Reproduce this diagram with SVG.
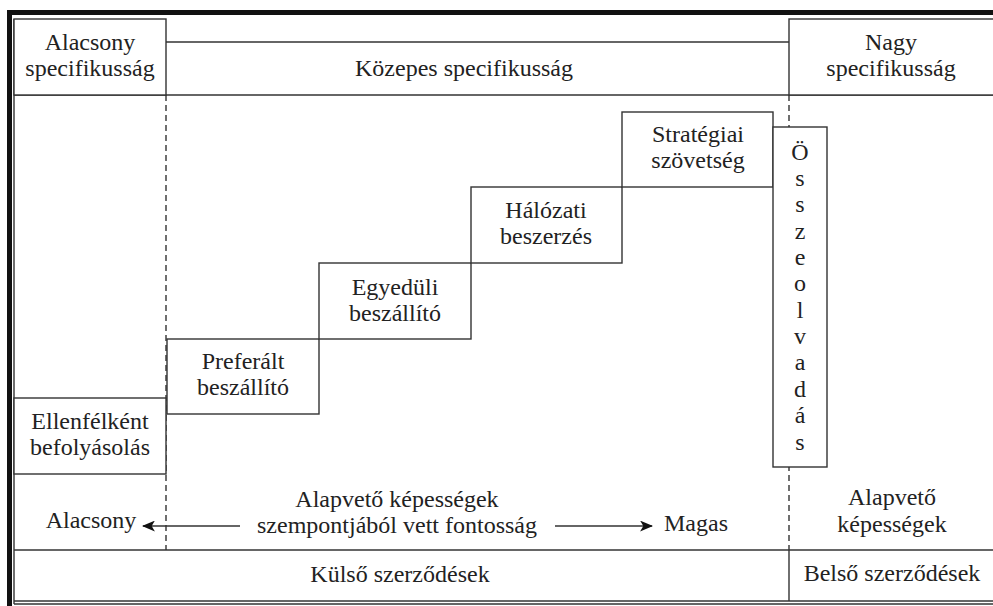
<svg xmlns="http://www.w3.org/2000/svg" width="993" height="606" viewBox="0 0 993 606">
<defs>
<style>
.ln{stroke:#333;stroke-width:1.4;fill:none}
.bx{stroke:#333;stroke-width:1.4;fill:#fff}
.ds{stroke:#333;stroke-width:1.4;stroke-dasharray:6,4;fill:none}
text{font-size:24px;fill:#222;text-anchor:middle}
</style>
<marker id="ah" viewBox="0 0 12 10" refX="11" refY="5" markerWidth="13" markerHeight="11" markerUnits="userSpaceOnUse" orient="auto">
<path d="M0,0 L12,5 L0,10 L3,5 Z" fill="#111"/>
</marker>
</defs>
<rect x="0" y="0" width="993" height="606" fill="#fff"/>
<rect x="7" y="10" width="986" height="5" fill="#111"/>
<rect x="7" y="10" width="5" height="596" fill="#111"/>
<g id="frame">
<line class="ln" x1="14" y1="19" x2="14" y2="604"/>
<line class="ln" x1="14" y1="95" x2="993" y2="95"/>
<line class="ln" x1="166" y1="42" x2="789" y2="42"/>
<line class="ln" x1="14" y1="550" x2="993" y2="550"/>
<line class="ln" x1="14" y1="601" x2="993" y2="601"/>
<line class="ln" x1="14" y1="604" x2="993" y2="604" stroke="#777"/>
<line class="ln" x1="789" y1="550" x2="789" y2="601"/>
</g>
<g id="dividers">
<line class="ds" x1="166" y1="95" x2="166" y2="550"/>
<line class="ds" x1="789" y1="95" x2="789" y2="550"/>
</g>
<g font-family="'Liberation Serif', 'DejaVu Serif', 'Times New Roman', serif">
<g id="hdr-low">
<rect class="bx" x="14" y="19" width="152" height="76"/>
<text x="90" y="50">Alacsony</text>
<text x="90" y="76">specifikusság</text>
</g>
<g id="hdr-mid">
<text x="464" y="76">Közepes specifikusság</text>
</g>
<g id="hdr-high">
<rect class="bx" x="789" y="19" width="210" height="76"/>
<text x="891" y="50">Nagy</text>
<text x="891" y="76">specifikusság</text>
</g>
<g id="ellenfel">
<rect class="bx" x="14" y="398" width="152" height="76"/>
<text x="90" y="429">Ellenfélként</text>
<text x="90" y="455">befolyásolás</text>
</g>
<g id="preferalt">
<rect class="bx" x="167" y="339" width="152" height="75"/>
<text x="243" y="369">Preferált</text>
<text x="243" y="395">beszállító</text>
</g>
<g id="egyeduli">
<rect class="bx" x="319" y="263" width="152" height="76"/>
<text x="395" y="295">Egyedüli</text>
<text x="395" y="321">beszállító</text>
</g>
<g id="halozati">
<rect class="bx" x="471" y="187" width="151" height="76"/>
<text x="546" y="218">Hálózati</text>
<text x="546" y="244">beszerzés</text>
</g>
<g id="strategiai">
<rect class="bx" x="622" y="112" width="151" height="75"/>
<text x="698" y="142">Stratégiai</text>
<text x="698" y="168">szövetség</text>
</g>
<g id="osszeolvadas">
<rect class="bx" x="773" y="127" width="54" height="340"/>
<text x="800" y="160">Ö</text>
<text x="800" y="186">s</text>
<text x="800" y="212">s</text>
<text x="800" y="239">z</text>
<text x="800" y="265">e</text>
<text x="800" y="291">o</text>
<text x="800" y="318">l</text>
<text x="800" y="344">v</text>
<text x="800" y="370">a</text>
<text x="800" y="397">d</text>
<text x="800" y="423">á</text>
<text x="800" y="450">s</text>
</g>
<g id="connectors">
<line class="ln" x1="240" y1="526" x2="143" y2="526" stroke="#111" marker-end="url(#ah)"/>
<line class="ln" x1="555" y1="526" x2="652" y2="526" stroke="#111" marker-end="url(#ah)"/>
</g>
<g id="axis">
<text x="91" y="528">Alacsony</text>
<text x="397" y="507">Alapvető képességek</text>
<text x="397" y="533">szempontjából vett fontosság</text>
<text x="696" y="531">Magas</text>
</g>
<g id="core">
<text x="892" y="505">Alapvető</text>
<text x="892" y="532">képességek</text>
</g>
<g id="contracts">
<text x="400" y="582">Külső szerződések</text>
<text x="892" y="581">Belső szerződések</text>
</g>
</g>
</svg>
